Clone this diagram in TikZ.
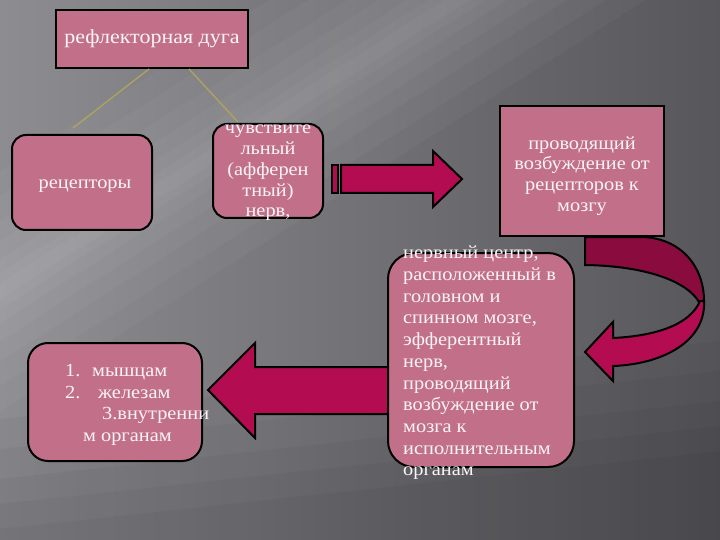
\documentclass[tikz,border=0pt]{standalone}
\usepackage{fontspec}
\setmainfont{Liberation Serif}[FakeStretch=1.1]
\usetikzlibrary{calc}
\definecolor{boxpink}{RGB}{194,112,138}
\definecolor{arrred}{RGB}{180,12,80}
\definecolor{arrdark}{RGB}{138,12,62}
\definecolor{conncol}{RGB}{170,162,98}
\definecolor{bgl}{RGB}{140,140,145}
\definecolor{bgr}{RGB}{86,86,91}
\definecolor{txtwhite}{RGB}{250,244,246}
\begin{document}
\begin{tikzpicture}[x=1pt,y=-1pt,
  pbox/.style={draw=black, line width=2pt, fill=boxpink},
  rbox/.style={pbox, rounded corners=14pt},
  txt/.style={text=txtwhite, font=\fontsize{18.5}{20.8}\selectfont, align=center, inner sep=0pt},
  conn/.style={draw=conncol, line width=1.5pt},
  arr/.style={draw=black, line width=2pt, fill=arrred, line join=miter}]
\useasboundingbox (0,0) rectangle (720,540);
% background
\shade[left color=bgl, right color=bgr] (0,0) rectangle (720,540);
\begin{scope}
\clip (0,0) rectangle (720,540);
\foreach \w in {120,95,70,50,32,18,8}{
  \fill[white, fill opacity=0.03] (-100,355-\w) -- (700,-155-\w) -- (700,-155+\w) -- (-100,355+\w) -- cycle;
}
\foreach \w in {140,110,80,55,30}{
  \fill[black, fill opacity=0.03] (-10,560-\w) -- (730,480-\w) -- (730,560) -- (-10,560) -- cycle;
}
\end{scope}

% title
\node[pbox, txt, font=\fontsize{20}{22}\selectfont, minimum width=192pt, minimum height=58pt] (title) at (152,39) {рефлекторная дуга};

% connectors
\coordinate (c1) at (73,128);
\coordinate (c2) at (238,122);
\draw[conn] ($(title.south west)+(94,0)$) -- (c1);
\draw[conn] ($(title.south west)+(134,0)$) -- (c2);

% receptors
\node[rbox, minimum width=140pt, minimum height=95pt] (rec) at (82,182.5) {};
\node[txt] (rect) at (85,186) {рецепторы};

% sensory nerve
\node[rbox, minimum width=110pt, minimum height=94pt] (sens) at (268,171) {};
\node[txt] (senst) at (268,173) {чувствите\\льный\\(афферен\\тный)\\нерв,};

% right arrow
\path[arr] (332,165) rectangle (338,193);
\path[arr] (341,165) -- (433,165) -- (433,151) -- (462,179) -- (433,207) -- (433,193) -- (341,193) -- cycle;

% curved arrow (back band)
\path[arr, fill=arrdark] (585,237) -- (640,237) .. controls (680,237) and (704,266) .. (704,301)
   -- (699,302) .. controls (688,283) and (650,266) .. (585,265) -- cycle;
% conducting box
\node[pbox, minimum width=164pt, minimum height=130pt] (prov) at (582,171) {};
\node[txt] (provt) at (582,176) {проводящий\\возбуждение от\\рецепторов к\\мозгу};
% curved arrow front band
\path[arr] (700,301) .. controls (690,325) and (655,336) .. (613,338) -- (613,322) -- (585,352) -- (613,381) -- (613,366)
   .. controls (665,364) and (706,340) .. (704,301) -- cycle;

% left arrow
\path[arr] (395,367) -- (255,367) -- (255,343) -- (208,390) -- (255,438) -- (255,414) -- (395,414);

% nerve centre
\node[pbox, rounded corners=26pt, minimum width=186pt, minimum height=214pt] (cent) at (481,360) {};
\node[txt, align=left, anchor=west, font=\fontsize{18.5}{21.7}\selectfont] (centt) at (403,363)
 {нервный центр,\\расположенный в\\головном и\\спинном мозге,\\эфферентный\\нерв,\\проводящий\\возбуждение от\\мозга к\\исполнительным\\органам};

% organs
\node[pbox, rounded corners=20pt, minimum width=174pt, minimum height=118pt] (org) at (115,402) {};
\node[txt, anchor=base west] (o1) at (65,376) {1.};
\node[txt, anchor=base west] (o1b) at (92,376) {мышцам};
\node[txt, anchor=base west] (o2) at (65,398) {2.};
\node[txt, anchor=base west] (o2b) at (98,398) {железам};
\node[txt, anchor=base west] (o3) at (102,419) {3.внутренни};
\node[txt, anchor=base west] (o4) at (83,441) {м органам};
\end{tikzpicture}
\end{document}
